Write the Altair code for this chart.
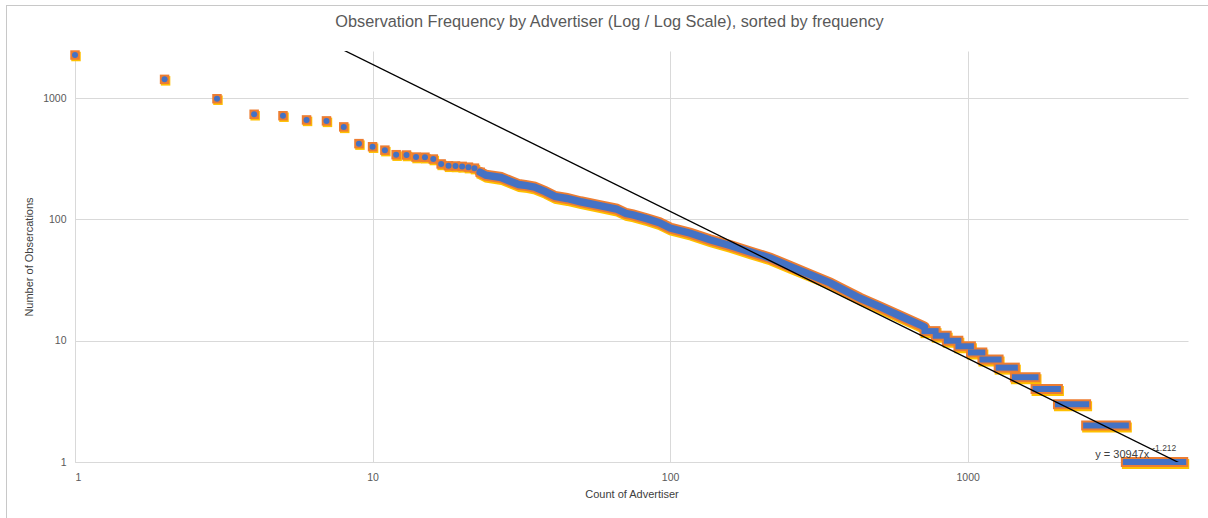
import altair as alt
import pandas as pd

# ---- data ----
head_rank = list(range(1, 24))
head_count = [2270, 1430, 990, 737, 717, 662, 650, 580, 422, 398, 373, 342, 340,
              327, 326, 315, 287, 277, 276, 274, 270, 265, 245]

band_rank = [23, 24, 27, 29, 31, 33, 35, 38, 41, 45, 50, 58, 66, 71, 75, 84, 92, 100,
             117, 136, 159, 186, 217, 253, 296, 345, 380, 435, 508, 593, 692, 715]
band_count = [245, 232, 222, 207, 194, 190, 185, 170, 155, 149, 140, 130, 122, 112, 109,
              101, 94, 85, 77, 68, 61, 54, 48, 41, 35, 30, 26.5, 22.4, 19, 16, 13.5, 13]

step_count = [12, 11, 10, 9, 8, 7, 6, 5, 4, 3, 2, 1]
step_first = [716, 781, 851, 931, 1026, 1121, 1271, 1441, 1691, 2011, 2501, 3401]
step_last = [780, 850, 930, 1025, 1120, 1270, 1440, 1690, 2010, 2500, 3400, 5300]

# power trendline shown in the chart: y = 30947 x^-1.212 over the data's rank range
trend_a = 30947
trend_b = -1.212
trend_rank = [1, 5300]

x_ticks = [1, 10, 100, 1000]
y_ticks = [1, 10, 100, 1000]

title_text = "Observation Frequency by Advertiser (Log / Log Scale), sorted by frequency"
x_title = "Count of Advertiser"
y_title = "Number of Obsercations"
eq_main = "y = 30947x"
eq_sup = "-1.212"
eq_pos = [2683, 1.08]
eq_sup_pos = [4170, 1.23]

BLUE = "#4472C4"
ORANGE = "#ED7D31"
GOLD = "#FFC000"

df_head = pd.DataFrame({"rank": head_rank, "count": head_count})
df_band = pd.DataFrame({"rank": band_rank, "count": band_count})
df_steps = pd.DataFrame({"count": step_count, "first": step_first, "last": step_last})
df_trend = pd.DataFrame({"rank": trend_rank,
                         "count": [trend_a * r ** trend_b for r in trend_rank]})
df_eq = pd.DataFrame({"rank": [eq_pos[0]], "count": [eq_pos[1]], "t": [eq_main]})
df_eq2 = pd.DataFrame({"rank": [eq_sup_pos[0]], "count": [eq_sup_pos[1]], "t": [eq_sup]})
df_one = pd.DataFrame({"k": [0]})

xs = alt.Scale(type="log", domain=[1, 5500], nice=False)
ys = alt.Scale(type="log", domain=[1, 2450], nice=False)

x_axis = alt.Axis(values=x_ticks, title=x_title, format="d")
y_axis = alt.Axis(values=y_ticks, title=y_title, format="d")


def X(field):
    return alt.X(f"{field}:Q", scale=xs, axis=x_axis)


def Y(field):
    return alt.Y(f"{field}:Q", scale=ys, axis=y_axis)


# band (continuous run of overlapping markers)
band_gold = alt.Chart(df_band).mark_line(color=GOLD, strokeWidth=11, yOffset=2, xOffset=1,
                                         strokeCap="round").encode(x=X("rank"), y=Y("count"))
band_orange = alt.Chart(df_band).mark_line(color=ORANGE, strokeWidth=11,
                                           strokeCap="round").encode(x=X("rank"), y=Y("count"))
band_blue = alt.Chart(df_band).mark_line(color=BLUE, strokeWidth=7.5,
                                         strokeCap="round").encode(x=X("rank"), y=Y("count"))

# steps for the low counts
step_gold = alt.Chart(df_steps).mark_rule(color=GOLD, strokeWidth=10, yOffset=2, y2Offset=2,
                                          xOffset=1, x2Offset=1, strokeCap="square").encode(
    x=X("first"), x2="last:Q", y=Y("count"))
step_orange = alt.Chart(df_steps).mark_rule(color=ORANGE, strokeWidth=10,
                                            strokeCap="square").encode(
    x=X("first"), x2="last:Q", y=Y("count"))
step_blue = alt.Chart(df_steps).mark_rule(color=BLUE, strokeWidth=6,
                                          strokeCap="square").encode(
    x=X("first"), x2="last:Q", y=Y("count"))

# individual markers for the top advertisers
head_gold = alt.Chart(df_head).mark_square(color=GOLD, size=90, opacity=1, xOffset=1,
                                           yOffset=1.5).encode(x=X("rank"), y=Y("count"))
head_orange = alt.Chart(df_head).mark_square(color=ORANGE, size=90, opacity=1).encode(
    x=X("rank"), y=Y("count"))
head_blue = alt.Chart(df_head).mark_circle(color=BLUE, size=36, opacity=1).encode(
    x=X("rank"), y=Y("count"))

trend = alt.Chart(df_trend).mark_line(color="black", strokeWidth=1.3, clip=True).encode(
    x=X("rank"), y=Y("count"))

eq1 = alt.Chart(df_eq).mark_text(align="left", baseline="alphabetic", fontSize=11,
                                 color="#404040", font="Liberation Sans").encode(
    x=X("rank"), y=Y("count"), text="t:N")
eq2 = alt.Chart(df_eq2).mark_text(align="left", baseline="alphabetic", fontSize=8.5,
                                  color="#404040", font="Liberation Sans").encode(
    x=X("rank"), y=Y("count"), text="t:N")

frame_left = alt.Chart(df_one).mark_rule(color="#c8c8c8", strokeWidth=1).encode(
    x=alt.value(-68.5), y=alt.value(-46), y2=alt.value(470))
frame_top = alt.Chart(df_one).mark_rule(color="#c8c8c8", strokeWidth=1).encode(
    x=alt.value(-68.5), x2=alt.value(1140), y=alt.value(-45.5))

chart = alt.layer(
    frame_left, frame_top,
    band_gold, step_gold, head_gold,
    band_orange, step_orange, head_orange,
    band_blue, step_blue, head_blue,
    trend, eq1, eq2,
).properties(
    width=1113,
    height=411,
    title=alt.Title(title_text, fontSize=16.3, font="Liberation Sans", color="#595959",
                    fontWeight="normal", anchor="middle", dx=-22, offset=-39,
                    baseline="alphabetic"),
    autosize=alt.AutoSizeParams(type="none"),
    padding={"left": 75, "top": 51, "right": 20, "bottom": 56},
).configure_view(
    stroke=None
).configure_axis(
    grid=True,
    gridColor="#d9d9d9",
    gridWidth=1,
    domainColor="#d9d9d9",
    ticks=False,
    labelFont="Liberation Sans",
    labelFontSize=10.5,
    labelColor="#595959",
    titleFont="Liberation Sans",
    titleFontSize=11,
    titleFontWeight="normal",
    titleColor="#404040",
    labelPadding=9,
).configure_axisY(
    titlePadding=8,
).configure_axisX(
    titlePadding=6,
    labelPadding=10,
)

chart.save("out.html", embed_options={"renderer": "svg", "actions": False})
